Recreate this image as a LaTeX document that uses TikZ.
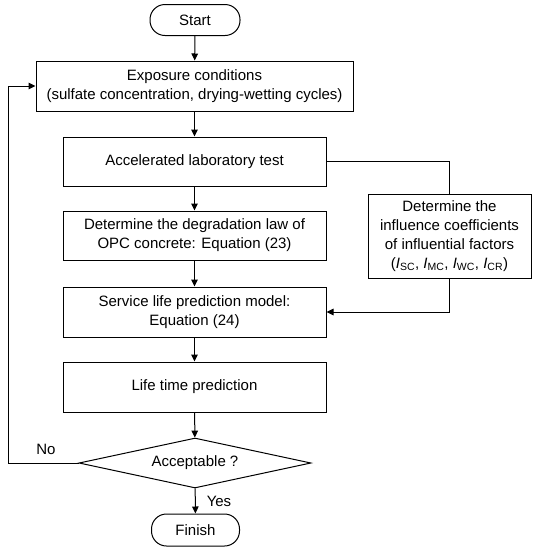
\documentclass[tikz,border=0pt]{standalone}
\usepackage{fontspec}
\setmainfont{Liberation Sans}
\usetikzlibrary{arrows.meta,shapes.geometric}
\begin{document}
\begin{tikzpicture}[x=1pt,y=-1pt,
  font=\fontsize{15}{19}\selectfont,
  every node/.style={line width=1pt},
  box/.style={draw, rectangle, inner sep=0pt, align=center, minimum width=263pt, minimum height=50pt},
  term/.style={draw, rectangle, rounded corners=15pt, inner sep=0pt, minimum width=90pt, minimum height=31pt},
  dec/.style={draw, diamond, aspect=4.64, inner sep=0pt, minimum width=232pt, minimum height=50pt},
  conn/.style={line width=1pt, -{Triangle[length=7pt,width=6.5pt]}},
  plain/.style={line width=1pt}]
\useasboundingbox (0,0) rectangle (538,550);
\node[term] (start) at (195,20) {Start};
\node[box, minimum width=317pt] (expo) at (194.5,86) {Exposure conditions\\(sulfate concentration, drying-wetting cycles)};
\node[box, minimum height=49pt] (accel) at (194.5,161.5) {Accelerated laboratory test};
\node[box, minimum height=49pt] (degr) at (194.5,235.5) {Determine the degradation law of\\OPC concrete: Equation (23)};
\node[box] (serv) at (194.5,312) {Service life prediction model:\\Equation (24)};
\node[box] (life) at (194.5,387) {Life time prediction};
\node[dec] (acc) at (195,463) {Acceptable ?};
\node[term, minimum width=88pt, minimum height=32pt] (fin) at (195.5,530) {Finish};
\node[box, minimum width=163pt, minimum height=84pt] (infl) at (449.5,236) {Determine the\\influence coefficients\\of influential factors\\(\textit{I}\textsubscript{SC}, \textit{I}\textsubscript{MC}, \textit{I}\textsubscript{WC}, \textit{I}\textsubscript{CR})};
\node (no) at (46,449) {No};
\node (yes) at (219,501) {Yes};
\coordinate (fbl) at (8,463);
\coordinate (fbt) at (8,86);
\coordinate (rt) at (449.5,161.5);
\coordinate (rb) at (449.5,312);

\draw[conn] (start) -- (expo);
\draw[conn] (expo) -- (accel);
\draw[conn] (accel) -- (degr);
\draw[conn] (degr) -- (serv);
\draw[conn] (serv) -- (life);
\draw[conn] (life) -- (acc);
\draw[conn] (acc) -- (fin);
\draw[plain] (accel.east) -- (rt) -- (infl.north);
\draw[conn] (infl.south) -- (rb) -- (serv.east);
\draw[conn] (acc.west) -- (fbl) -- (fbt) -- (expo.west);
\end{tikzpicture}
\end{document}
